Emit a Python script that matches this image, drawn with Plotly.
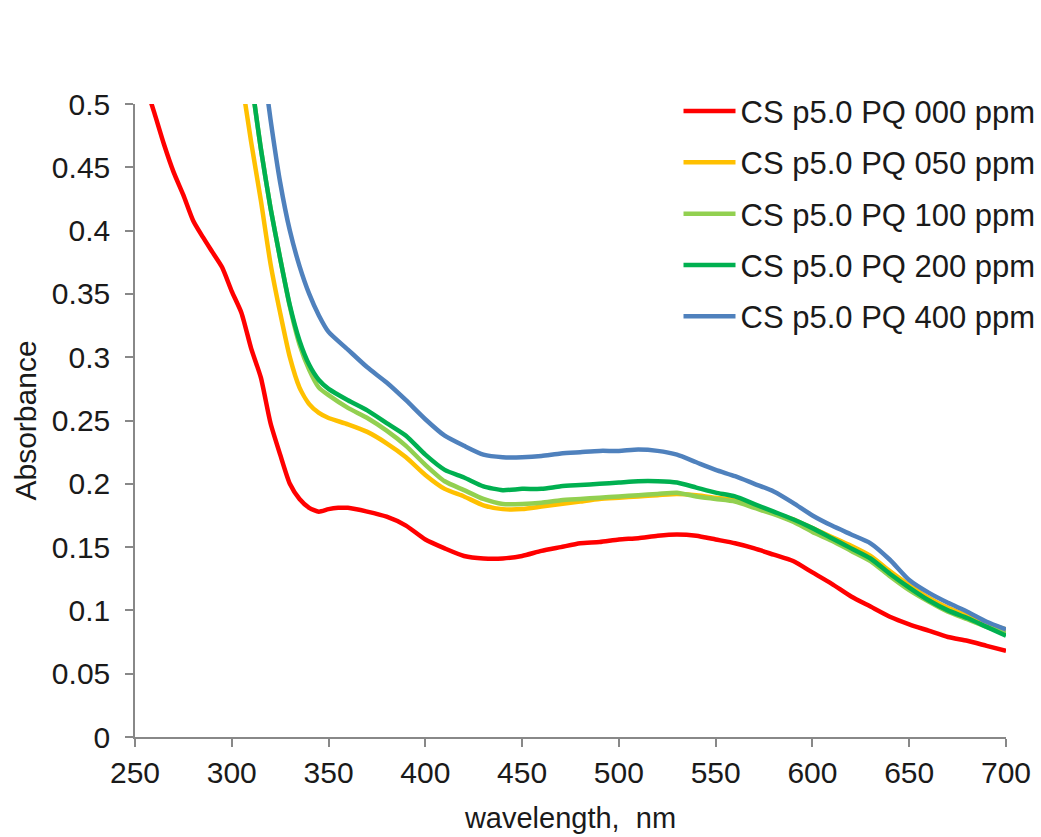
import plotly.graph_objects as go

# Wavelength grids (nm)
wl_000 = [255, 260, 265, 270, 275, 280, 285, 290, 295, 300, 305, 310, 315, 320, 325,
          330, 335, 340, 345, 350, 355, 360, 370, 380, 390, 400, 410, 420, 430, 440,
          450, 460, 470, 480, 490, 500, 510, 520, 530, 540, 550, 560, 570, 580, 590,
          600, 610, 620, 630, 640, 650, 660, 670, 680, 690, 700]
wl_050 = [305, 310, 315, 320, 325, 330, 335, 340, 345, 350, 360, 370, 380, 390, 400,
          410, 420, 430, 440, 450, 460, 470, 480, 490, 500, 510, 520, 530, 540, 550,
          560, 570, 580, 590, 600, 610, 620, 630, 640, 650, 660, 670, 680, 690, 700]
wl_100 = [310, 315, 320, 325, 330, 335, 340, 345, 350, 360, 370, 380, 390, 400,
          410, 420, 430, 440, 450, 460, 470, 480, 490, 500, 510, 520, 530, 540, 550,
          560, 570, 580, 590, 600, 610, 620, 630, 640, 650, 660, 670, 680, 690, 700]
wl_200 = wl_100
wl_400 = [315, 320, 325, 330, 335, 340, 345, 350, 360, 370, 380, 390, 400,
          410, 420, 430, 440, 450, 460, 470, 480, 490, 500, 510, 520, 530, 540, 550,
          560, 570, 580, 590, 600, 610, 620, 630, 640, 650, 660, 670, 680, 690, 700]

# Absorbance values
abs_000 = [0.517, 0.493, 0.468, 0.446, 0.428, 0.408, 0.395, 0.383, 0.371, 0.352, 0.335,
           0.307, 0.284, 0.248, 0.223, 0.200, 0.188, 0.181, 0.178, 0.180, 0.181, 0.181,
           0.178, 0.174, 0.167, 0.156, 0.149, 0.143, 0.141, 0.141, 0.143, 0.147, 0.150,
           0.153, 0.154, 0.156, 0.157, 0.159, 0.160, 0.159, 0.156, 0.153, 0.149, 0.144,
           0.139, 0.130, 0.121, 0.111, 0.103, 0.095, 0.089, 0.084, 0.079, 0.076, 0.072,
           0.068]
abs_050 = [0.520, 0.470, 0.424, 0.374, 0.335, 0.300, 0.276, 0.263, 0.256, 0.252, 0.247,
           0.241, 0.232, 0.221, 0.207, 0.196, 0.190, 0.183, 0.180, 0.180, 0.182, 0.184,
           0.186, 0.188, 0.189, 0.190, 0.191, 0.192, 0.191, 0.189, 0.187, 0.183, 0.177,
           0.172, 0.165, 0.158, 0.151, 0.143, 0.131, 0.120, 0.110, 0.102, 0.096, 0.090,
           0.085]
abs_100 = [0.520, 0.465, 0.418, 0.378, 0.340, 0.310, 0.290, 0.276, 0.270, 0.260, 0.252,
           0.242, 0.230, 0.215, 0.202, 0.195, 0.188, 0.184, 0.184, 0.185, 0.187, 0.188,
           0.189, 0.190, 0.191, 0.192, 0.193, 0.190, 0.188, 0.186, 0.181, 0.176, 0.170,
           0.162, 0.155, 0.147, 0.139, 0.127, 0.116, 0.107, 0.099, 0.093, 0.087, 0.082]
abs_200 = [0.520, 0.465, 0.418, 0.378, 0.341, 0.313, 0.294, 0.282, 0.275, 0.266, 0.258,
           0.248, 0.238, 0.223, 0.211, 0.205, 0.198, 0.195, 0.196, 0.196, 0.198, 0.199,
           0.200, 0.201, 0.202, 0.202, 0.201, 0.197, 0.193, 0.190, 0.184, 0.178, 0.172,
           0.165, 0.157, 0.149, 0.141, 0.129, 0.118, 0.108, 0.100, 0.094, 0.087, 0.080]
abs_400 = [0.545, 0.488, 0.438, 0.400, 0.372, 0.350, 0.333, 0.320, 0.306, 0.292, 0.280,
           0.266, 0.251, 0.238, 0.230, 0.223, 0.221, 0.221, 0.222, 0.224, 0.225, 0.226,
           0.226, 0.227, 0.226, 0.223, 0.217, 0.211, 0.206, 0.200, 0.194, 0.185, 0.175,
           0.167, 0.160, 0.153, 0.140, 0.124, 0.114, 0.106, 0.099, 0.091, 0.085]

series_names = ["CS p5.0 PQ 000 ppm", "CS p5.0 PQ 050 ppm", "CS p5.0 PQ 100 ppm",
                "CS p5.0 PQ 200 ppm", "CS p5.0 PQ 400 ppm"]
series_colors = ["#FF0000", "#FFC000", "#92D050", "#00B050", "#4F81BD"]

x_ticks = [250, 300, 350, 400, 450, 500, 550, 600, 650, 700]
y_ticks = [0, 0.05, 0.1, 0.15, 0.2, 0.25, 0.3, 0.35, 0.4, 0.45, 0.5]

FONT = "Liberation Sans, Arial, sans-serif"
TEXT = "#1a1a1a"
AXIS = "#888888"

fig = go.Figure()
for i, (wl, ab) in enumerate([(wl_000, abs_000), (wl_050, abs_050), (wl_100, abs_100),
                              (wl_200, abs_200), (wl_400, abs_400)]):
    fig.add_trace(go.Scatter(
        x=wl, y=ab, mode="lines", name=series_names[i],
        legendgroup=f"g{i}",
        line=dict(color=series_colors[i], width=4.5, shape="spline", smoothing=0.6),
    ))

fig.update_layout(
    width=1041, height=837,
    margin=dict(l=135, r=35, t=104, b=100, autoexpand=False),
    paper_bgcolor="white", plot_bgcolor="white",
    font=dict(family=FONT, size=30, color=TEXT),
    showlegend=True,
    legend=dict(
        x=0.624, y=1.031, xanchor="left", yanchor="top",
        bgcolor="rgba(0,0,0,0)", font=dict(size=31, color=TEXT),
        tracegroupgap=8, itemwidth=52,
    ),
    xaxis=dict(
        range=[250, 700], tickvals=x_ticks, ticktext=[str(v) for v in x_ticks],
        showgrid=False, zeroline=False,
        showline=True, linecolor=AXIS, linewidth=1.5,
        ticks="outside", ticklen=8, tickcolor=AXIS, tickwidth=1.5,
        tickfont=dict(size=30, color=TEXT),
        title=dict(text="wavelength,\u00a0 nm", font=dict(size=29, color=TEXT), standoff=20),
    ),
    yaxis=dict(
        range=[0, 0.5], tickvals=y_ticks, ticktext=[f"{v:g}" for v in y_ticks],
        showgrid=False, zeroline=False,
        showline=True, linecolor=AXIS, linewidth=1.5,
        ticks="outside", ticklen=8, tickcolor=AXIS, tickwidth=1.5,
        tickfont=dict(size=30, color=TEXT), ticklabelstandoff=9,
        title=dict(text="Absorbance", font=dict(size=30, color=TEXT), standoff=6),
    ),
)

fig.write_html("out.html")
